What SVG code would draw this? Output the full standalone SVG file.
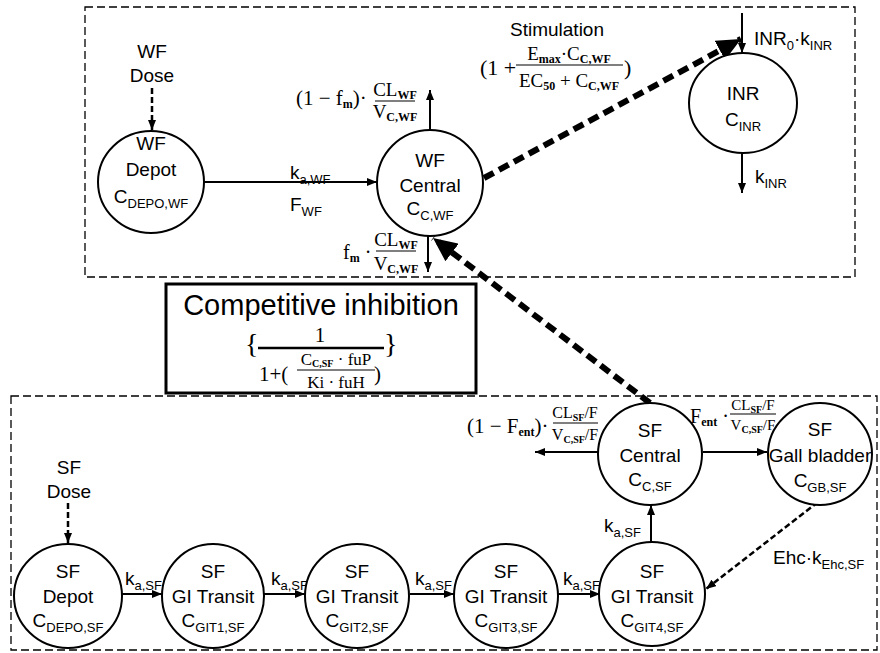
<svg xmlns="http://www.w3.org/2000/svg" width="880" height="653" viewBox="0 0 880 653">
<defs>
<marker id="ah" markerUnits="userSpaceOnUse" markerWidth="10" markerHeight="8" refX="10" refY="4" orient="auto"><path d="M0,0 L10,4 L0,8 z" fill="#000"/></marker>
<marker id="big" markerUnits="userSpaceOnUse" markerWidth="24" markerHeight="22" refX="24" refY="11" orient="auto"><path d="M0,0 L24,11 L0,22 z" fill="#000"/></marker>
<style>
.n{font-family:"Liberation Sans",Arial,sans-serif;font-size:19px;fill:#000;text-anchor:middle}
.l{font-family:"Liberation Sans",Arial,sans-serif;font-size:19px;fill:#000}
.s{font-size:13px}
.m{font-family:"Liberation Serif","Times New Roman",serif;font-size:21px;fill:#000}
.mc{font-family:"Liberation Serif","Times New Roman",serif;font-size:19px;fill:#000;text-anchor:middle}
.ms{font-size:12px;font-weight:bold}
.c{fill:#fff;stroke:#000;stroke-width:2}
.box{fill:none;stroke:#000;stroke-width:1.3;stroke-dasharray:8 4}
.a{stroke:#000;stroke-width:2;fill:none;marker-end:url(#ah)}
.d{stroke:#000;stroke-width:2.5;fill:none;stroke-dasharray:6 3;marker-end:url(#ah)}
.t{stroke:#000;stroke-width:6;fill:none;stroke-dasharray:11 6;marker-end:url(#big)}
.f{stroke:#000;stroke-width:1.2}
</style>
</defs>
<rect width="880" height="653" fill="#fff"/>
<g id="frames">
<rect class="box" x="85" y="7" width="770" height="270"/>
<rect class="box" x="11" y="396" width="866" height="254"/>
</g>
<g id="connectors">
<path class="d" d="M152,88 L152,130"/>
<path class="a" d="M204,182 L377,182"/>
<path class="a" d="M430,130 L430,90"/>
<path class="a" d="M428,236 L428,272"/>
<path class="a" d="M742,13 L742,53"/>
<path class="a" d="M742,153 L742,193"/>
<path class="t" d="M484,178 L741,39"/>
<path class="t" d="M650,403 L433,238"/>
<path class="d" d="M68,503 L68,543"/>
<path class="a" d="M122,594 L162,594"/>
<path class="a" d="M264,594 L305,594"/>
<path class="a" d="M410,594 L454,594"/>
<path class="a" d="M558,594 L600,594"/>
<path class="a" d="M651,542 L651,505"/>
<path class="a" d="M598,452 L535,452"/>
<path class="a" d="M703,452 L767,452"/>
<path class="d" d="M818,502 L706,589"/>
</g>
<g id="labels">
<text class="l" x="290" y="179">k<tspan class="s" dy="5">a,WF</tspan></text>
<text class="l" x="290" y="211">F<tspan class="s" dy="5">WF</tspan></text>
<text class="n" x="557" y="36">Stimulation</text>
<text class="m" x="480" y="75" style="font-size:22px">(1 +</text>
<text class="mc" x="569" y="60" style="font-size:19px">E<tspan class="ms" dy="3" style="font-size:12px">max</tspan><tspan dy="-3">·C</tspan><tspan class="ms" dy="3" style="font-size:12px">C,WF</tspan></text>
<line class="f" x1="516" y1="65" x2="623" y2="65"/>
<text class="mc" x="569" y="87" style="font-size:19px">EC<tspan class="ms" dy="3" style="font-size:12px">50</tspan><tspan dy="-3"> + C</tspan><tspan class="ms" dy="3" style="font-size:12px">C,WF</tspan></text>
<text class="m" x="624" y="75" style="font-size:22px">)</text>
<text class="m" x="296" y="105">(1 − f<tspan class="ms" dy="3">m</tspan><tspan dy="-3">)·</tspan></text>
<text class="mc" x="395" y="96">CL<tspan class="ms" dy="3">WF</tspan></text>
<line class="f" x1="375" y1="101" x2="415" y2="101"/>
<text class="mc" x="395" y="118">V<tspan class="ms" dy="3">C,WF</tspan></text>
<text class="m" x="343" y="259" style="font-size:20px">f<tspan class="ms" dy="3">m</tspan><tspan dy="-3"> ·</tspan></text>
<text class="mc" x="396" y="246">CL<tspan class="ms" dy="3">WF</tspan></text>
<line class="f" x1="376" y1="251" x2="416" y2="251"/>
<text class="mc" x="396" y="270">V<tspan class="ms" dy="3">C,WF</tspan></text>
<text class="l" x="754" y="45">INR<tspan class="s" dy="5">0</tspan><tspan dy="-5">·k</tspan><tspan class="s" dy="5">INR</tspan></text>
<text class="l" x="755" y="183">k<tspan class="s" dy="5">INR</tspan></text>
<text class="l" x="125" y="585">k<tspan class="s" dy="5">a,SF</tspan></text>
<text class="l" x="271" y="585">k<tspan class="s" dy="5">a,SF</tspan></text>
<text class="l" x="415" y="585">k<tspan class="s" dy="5">a,SF</tspan></text>
<text class="l" x="563" y="585">k<tspan class="s" dy="5">a,SF</tspan></text>
<text class="l" x="604" y="532">k<tspan class="s" dy="5">a,SF</tspan></text>
<text class="l" x="773" y="564">Ehc·k<tspan class="s" dy="5">Ehc,SF</tspan></text>
<text class="m" x="467" y="433">(1 − F<tspan class="ms" dy="3">ent</tspan><tspan dy="-3">)·</tspan></text>
<text class="mc" x="575" y="418" style="font-size:16px">CL<tspan class="ms" dy="3" style="font-size:10px">SF</tspan><tspan dy="-3">/F</tspan></text>
<line class="f" x1="553" y1="423" x2="598" y2="423"/>
<text class="mc" x="575" y="440" style="font-size:16px">V<tspan class="ms" dy="3" style="font-size:10px">C,SF</tspan><tspan dy="-3">/F</tspan></text>
<text class="m" x="690" y="423" style="font-size:20px">F<tspan class="ms" dy="3">ent</tspan><tspan dy="-3"> ·</tspan></text>
<text class="mc" x="753" y="410" style="font-size:15px">CL<tspan class="ms" dy="3" style="font-size:10px">SF</tspan><tspan dy="-3">/F</tspan></text>
<line class="f" x1="730" y1="414" x2="776" y2="414"/>
<text class="mc" x="753" y="430" style="font-size:15px">V<tspan class="ms" dy="3" style="font-size:10px">C,SF</tspan><tspan dy="-3">/F</tspan></text>
</g>
<g id="wf-dose"><text class="n" x="152" y="58">WF</text><text class="n" x="152" y="82">Dose</text></g>
<g id="wf-depot"><ellipse class="c" cx="151" cy="182" rx="53" ry="51"/><text class="n" x="151" y="150">WF</text><text class="n" x="151" y="176">Depot</text><text class="n" x="151" y="203">C<tspan class="s" dy="5">DEPO,WF</tspan></text></g>
<g id="wf-central"><ellipse class="c" cx="430" cy="183" rx="53" ry="53"/><text class="n" x="430" y="167">WF</text><text class="n" x="430" y="192">Central</text><text class="n" x="430" y="215">C<tspan class="s" dy="5">C,WF</tspan></text></g>
<g id="inr"><ellipse class="c" cx="743" cy="103" rx="54" ry="50"/><text class="n" x="743" y="100">INR</text><text class="n" x="743" y="126">C<tspan class="s" dy="5">INR</tspan></text></g>
<g id="competitive-inhibition">
<rect x="166" y="284" width="310" height="109" fill="#fff" stroke="#000" stroke-width="3"/>
<text class="n" x="321" y="315" style="font-size:29px">Competitive inhibition</text>
<text class="m" x="245" y="353" style="font-size:28px">{</text>
<text class="mc" x="320" y="342" style="font-size:21px">1</text>
<line x1="258" y1="348" x2="384" y2="348" stroke="#000" stroke-width="2.5"/>
<text class="m" x="384" y="353" style="font-size:28px">}</text>
<text class="m" x="259" y="381" style="font-size:21px">1+(</text>
<text class="mc" x="336" y="365" style="font-size:17px">C<tspan class="ms" dy="2" style="font-size:10px">C,SF</tspan><tspan dy="-2"> · fuP</tspan></text>
<line class="f" x1="297" y1="370" x2="375" y2="370"/>
<text class="mc" x="336" y="388" style="font-size:17px">Ki · fuH</text>
<text class="m" x="374" y="381" style="font-size:21px">)</text>
</g>
<g id="sf-dose"><text class="n" x="69" y="474">SF</text><text class="n" x="69" y="498">Dose</text></g>
<g id="sf-depot"><ellipse class="c" cx="68" cy="596" rx="54" ry="52"/><text class="n" x="68" y="578">SF</text><text class="n" x="68" y="603">Depot</text><text class="n" x="68" y="627">C<tspan class="s" dy="5">DEPO,SF</tspan></text></g>
<g id="sf-git1"><ellipse class="c" cx="213" cy="596" rx="51" ry="52"/><text class="n" x="213" y="578">SF</text><text class="n" x="213" y="603">GI Transit</text><text class="n" x="213" y="627">C<tspan class="s" dy="5">GIT1,SF</tspan></text></g>
<g id="sf-git2"><ellipse class="c" cx="357" cy="596" rx="52" ry="52"/><text class="n" x="357" y="578">SF</text><text class="n" x="357" y="603">GI Transit</text><text class="n" x="357" y="627">C<tspan class="s" dy="5">GIT2,SF</tspan></text></g>
<g id="sf-git3"><ellipse class="c" cx="506" cy="596" rx="52" ry="52"/><text class="n" x="506" y="578">SF</text><text class="n" x="506" y="603">GI Transit</text><text class="n" x="506" y="627">C<tspan class="s" dy="5">GIT3,SF</tspan></text></g>
<g id="sf-git4"><ellipse class="c" cx="652" cy="594" rx="53" ry="52"/><text class="n" x="652" y="578">SF</text><text class="n" x="652" y="603">GI Transit</text><text class="n" x="652" y="627">C<tspan class="s" dy="5">GIT4,SF</tspan></text></g>
<g id="sf-central"><ellipse class="c" cx="650" cy="454" rx="52" ry="51"/><text class="n" x="650" y="437">SF</text><text class="n" x="650" y="462">Central</text><text class="n" x="650" y="486">C<tspan class="s" dy="5">C,SF</tspan></text></g>
<g id="sf-gall-bladder"><ellipse class="c" cx="820" cy="454" rx="52" ry="51"/><text class="n" x="820" y="436">SF</text><text class="n" x="820" y="462">Gall bladder</text><text class="n" x="820" y="487">C<tspan class="s" dy="5">GB,SF</tspan></text></g>
</svg>
